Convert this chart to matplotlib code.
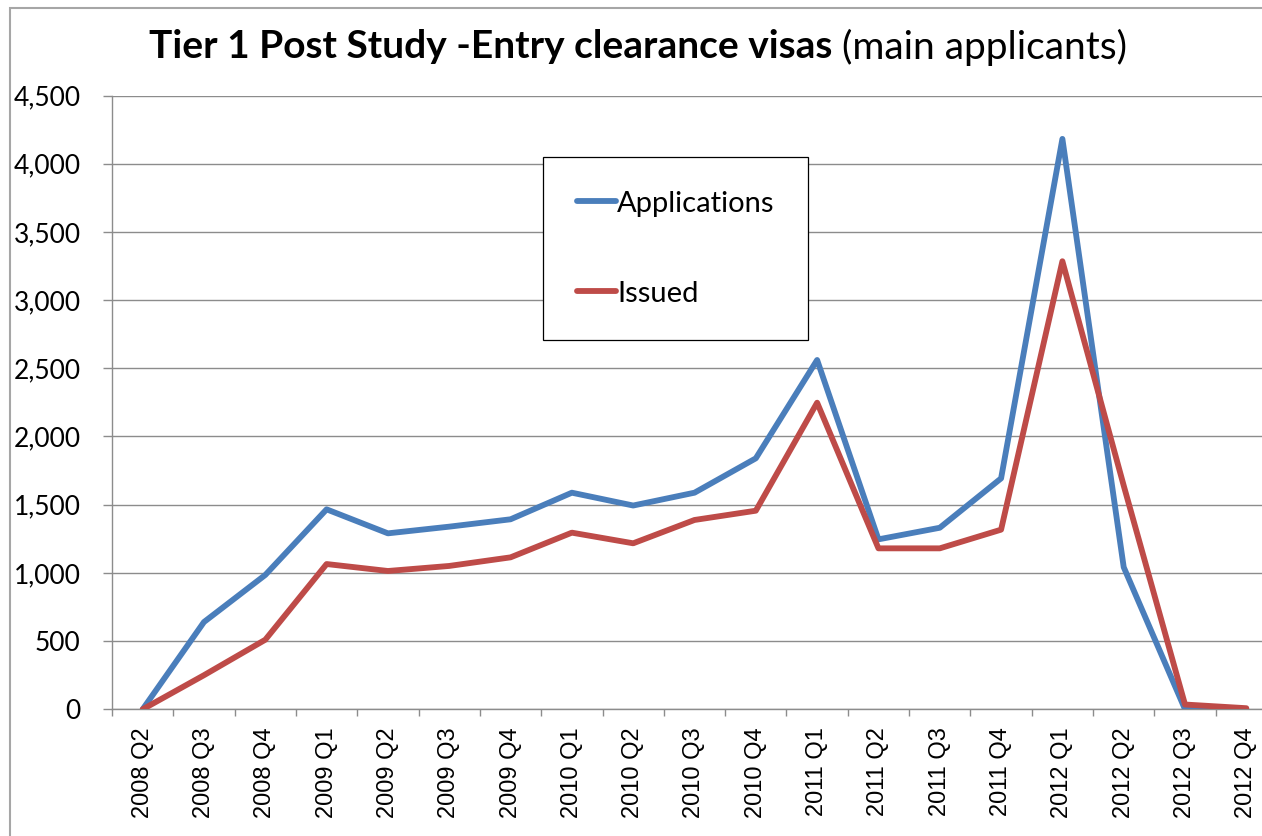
import matplotlib
matplotlib.use("Agg")
import matplotlib.pyplot as plt
from matplotlib.patches import Rectangle
from matplotlib.ticker import StrMethodFormatter, FixedLocator

quarters = ["2008 Q2", "2008 Q3", "2008 Q4", "2009 Q1", "2009 Q2", "2009 Q3", "2009 Q4",
            "2010 Q1", "2010 Q2", "2010 Q3", "2010 Q4", "2011 Q1", "2011 Q2", "2011 Q3",
            "2011 Q4", "2012 Q1", "2012 Q2", "2012 Q3", "2012 Q4"]
applications = [0, 640, 985, 1466, 1290, 1339, 1393, 1588, 1494, 1588, 1840, 2561,
                1246, 1331, 1693, 4182, 1042, 0, 0]
issued = [0, 250, 510, 1065, 1014, 1051, 1114, 1295, 1217, 1388, 1456, 2248,
          1180, 1180, 1317, 3285, 1640, 35, 8]
yticks = [0, 500, 1000, 1500, 2000, 2500, 3000, 3500, 4000, 4500]

W, H = 1262, 836
fig = plt.figure(figsize=(W / 100, H / 100), dpi=100)
fig.patch.set_facecolor("white")

# outer chart border
fig.patches.append(Rectangle((10 / W, -0.1), 1.2, 1.1 - 8 / H, transform=fig.transFigure,
                             fill=False, edgecolor="#a6a6a6", linewidth=1.5))

ax = fig.add_axes([112 / W, 1 - 709.3 / H, 1165 / W, (709.3 - 95.5) / H])
x = list(range(len(quarters)))
ax.plot(x, applications, color="#4A7EBB", linewidth=4.2, label="Applications",
        solid_joinstyle="round", solid_capstyle="round", zorder=3)
ax.plot(x, issued, color="#BE4B48", linewidth=4.2, label="Issued",
        solid_joinstyle="round", solid_capstyle="round", zorder=4)

ax.set_xlim(-0.5, len(quarters) - 0.5)
ax.set_ylim(0, 4500)
ax.set_yticks(yticks)
ax.yaxis.set_major_formatter(StrMethodFormatter("{x:,.0f}"))
ax.grid(axis="y", color="#8c8c8c", linewidth=1.0)
ax.set_axisbelow(True)

for s in ["top", "right"]:
    ax.spines[s].set_visible(False)
for s in ["left", "bottom"]:
    ax.spines[s].set_color("#8c8c8c")
    ax.spines[s].set_linewidth(1.0)

ax.set_xticks(x)
ax.set_xticklabels(quarters, rotation=90, fontsize=17, family="Liberation Sans")
ax.tick_params(axis="x", which="major", length=0, pad=13)
ax.xaxis.set_minor_locator(FixedLocator([i - 0.5 for i in range(len(quarters) + 1)]))
ax.tick_params(axis="x", which="minor", length=5, color="#8c8c8c", width=1.0)
ax.tick_params(axis="y", which="major", length=6.5, color="#8c8c8c", width=1.0, pad=16)
for lab in ax.get_yticklabels():
    lab.set_fontsize(19)
    lab.set_family("Lato")

leg = ax.legend(loc="upper left", bbox_to_anchor=(543 / W, 1 - 157 / H),
                bbox_transform=fig.transFigure, borderaxespad=0,
                prop={"family": "Lato", "size": 21}, frameon=True, fancybox=False,
                framealpha=1, edgecolor="black", borderpad=1.15, labelspacing=2.2,
                handlelength=1.35, handletextpad=0.05)
leg.get_frame().set_linewidth(0.9)

# title: bold part + regular part, centred as one block
ty = 1 - 47 / H
t1 = fig.text(0, ty, "Tier 1 Post Study -Entry clearance visas", fontsize=28,
              fontweight="bold", family="Lato", va="center", ha="left")
t2 = fig.text(0, ty, " (main applicants)", fontsize=28, family="Lato",
              va="center", ha="left")
r = fig.canvas.get_renderer()
w1 = t1.get_window_extent(r).width
w2 = t2.get_window_extent(r).width
x0 = 638 - (w1 + w2) / 2
t1.set_x(x0 / W)
t2.set_x((x0 + w1) / W)

fig.savefig("out.png", dpi=100)
